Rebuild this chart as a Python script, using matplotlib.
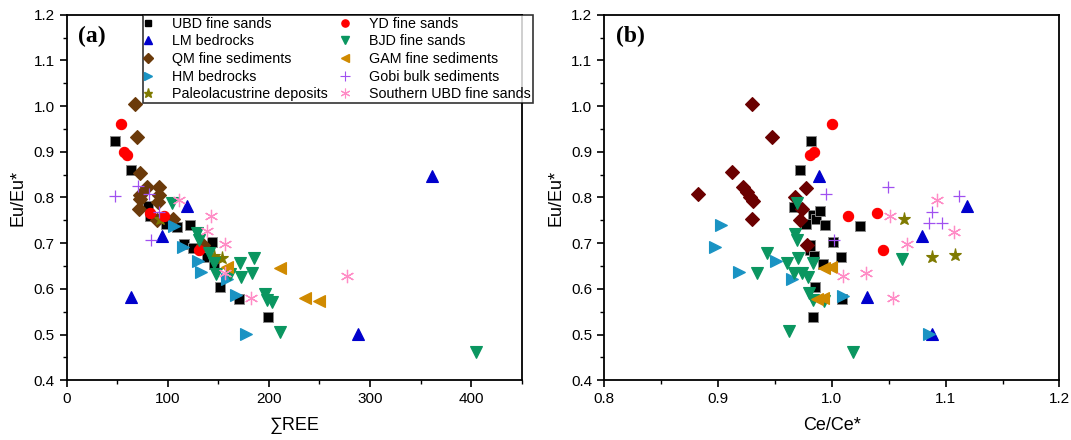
import matplotlib
matplotlib.use("Agg")
import matplotlib.pyplot as plt
from matplotlib.ticker import MultipleLocator

plt.rcParams['font.family'] = ['Liberation Sans', 'DejaVu Sans']

# ---------------- data: panel (a)  x = sum REE, y = Eu/Eu* ----------------
ubd_a_x = [47.7, 64, 80, 82.5, 97.8, 109, 122, 116.5, 125, 143.4, 139, 146, 151.6, 170, 199.3]
ubd_a_y = [0.923, 0.86, 0.782, 0.759, 0.743, 0.736, 0.740, 0.698, 0.689, 0.702, 0.670, 0.654, 0.605, 0.578, 0.539]
lm_a_x = [361, 119, 94.7, 63.4, 288.6]
lm_a_y = [0.847, 0.782, 0.716, 0.583, 0.501]
qm_a_x = [67.5, 69.2, 72.2, 79, 91, 72.2, 91.6, 90.7, 71.9, 89, 105.6, 135, 73]
qm_a_y = [1.005, 0.932, 0.854, 0.824, 0.822, 0.805, 0.805, 0.791, 0.774, 0.751, 0.752, 0.697, 0.797]
hm_a_x = [106.3, 115.2, 129.8, 132.9, 158.4, 167.3, 177.2]
hm_a_y = [0.738, 0.692, 0.662, 0.638, 0.621, 0.587, 0.501]
paleo_a_x = [92, 145.5, 153.3]
paleo_a_y = [0.754, 0.672, 0.668]
yd_a_x = [53.8, 56.9, 59.3, 82.5, 96.4, 131]
yd_a_y = [0.961, 0.900, 0.892, 0.765, 0.760, 0.685]
bjd_a_x = [104.6, 129, 131, 140.4, 146.2, 148.2, 171, 185.4, 172.7, 183.6, 161.8, 196.2, 198, 203, 211.2, 404.4]
bjd_a_y = [0.787, 0.722, 0.708, 0.678, 0.656, 0.632, 0.657, 0.667, 0.627, 0.635, 0.632, 0.588, 0.576, 0.571, 0.506, 0.463]
gam_a_x = [211, 235.8, 249.4, 159]
gam_a_y = [0.645, 0.581, 0.574, 0.649]
gobi_a_x = [47.7, 70.5, 81.8, 83.1, 91]
gobi_a_y = [0.804, 0.825, 0.807, 0.707, 0.768]
subd_a_x = [111.4, 142.8, 138.7, 156.4, 156.7, 182, 277.3]
subd_a_y = [0.794, 0.759, 0.727, 0.699, 0.635, 0.581, 0.629]

# ---------------- data: panel (b)  x = Ce/Ce*, y = Eu/Eu* ----------------
ubd_b_x = [0.982, 0.972, 0.967, 0.983, 0.986, 0.990, 0.994, 0.977, 1.001, 1.025, 1.008, 0.981, 0.981, 0.984, 0.992, 0.985, 1.009, 0.983]
ubd_b_y = [0.923, 0.86, 0.78, 0.761, 0.754, 0.771, 0.740, 0.742, 0.702, 0.737, 0.670, 0.697, 0.685, 0.672, 0.654, 0.605, 0.578, 0.539]
lm_b_x = [0.989, 1.119, 1.079, 1.031, 1.088]
lm_b_y = [0.848, 0.782, 0.716, 0.583, 0.501]
qm_b_x = [0.930, 0.947, 0.912, 0.882, 0.922, 0.925, 0.928, 0.931, 0.930, 0.977, 0.968, 0.974, 0.972, 0.978]
qm_b_y = [1.005, 0.932, 0.855, 0.807, 0.824, 0.812, 0.802, 0.792, 0.752, 0.821, 0.800, 0.775, 0.751, 0.696]
hm_b_x = [0.903, 0.897, 0.918, 0.951, 0.965, 1.010, 1.085]
hm_b_y = [0.739, 0.692, 0.637, 0.662, 0.621, 0.584, 0.501]
paleo_b_x = [1.063, 1.088, 1.108]
paleo_b_y = [0.754, 0.669, 0.674]
yd_b_x = [1.000, 0.984, 0.981, 1.014, 1.040, 1.045]
yd_b_y = [0.961, 0.900, 0.892, 0.759, 0.765, 0.686]
bjd_b_x = [0.969, 0.968, 0.969, 0.943, 0.961, 0.970, 0.934, 0.967, 0.974, 0.979, 0.983, 0.980, 0.983, 0.993, 0.962, 1.019, 1.062]
bjd_b_y = [0.789, 0.720, 0.708, 0.678, 0.657, 0.667, 0.634, 0.634, 0.635, 0.627, 0.656, 0.590, 0.576, 0.574, 0.507, 0.463, 0.666]
gam_b_x = [0.993, 0.999, 0.987, 0.992]
gam_b_y = [0.645, 0.648, 0.577, 0.581]
gobi_b_x = [1.112, 1.049, 0.995, 1.002, 1.088, 1.085, 1.097]
gobi_b_y = [0.804, 0.822, 0.807, 0.707, 0.769, 0.745, 0.745]
subd_b_x = [1.092, 1.051, 1.107, 1.066, 1.010, 1.030, 1.054]
subd_b_y = [0.794, 0.759, 0.725, 0.698, 0.628, 0.635, 0.581]

labels = ["UBD fine sands", "LM bedrocks", "QM fine sediments", "HM bedrocks",
          "Paleolacustrine deposits", "YD fine sands", "BJD fine sands",
          "GAM fine sediments", "Gobi bulk sediments", "Southern UBD fine sands"]

panel_a = [(ubd_a_x, ubd_a_y), (lm_a_x, lm_a_y), (qm_a_x, qm_a_y), (hm_a_x, hm_a_y),
           (paleo_a_x, paleo_a_y), (yd_a_x, yd_a_y), (bjd_a_x, bjd_a_y),
           (gam_a_x, gam_a_y), (gobi_a_x, gobi_a_y), (subd_a_x, subd_a_y)]
panel_b = [(ubd_b_x, ubd_b_y), (lm_b_x, lm_b_y), (qm_b_x, qm_b_y), (hm_b_x, hm_b_y),
           (paleo_b_x, paleo_b_y), (yd_b_x, yd_b_y), (bjd_b_x, bjd_b_y),
           (gam_b_x, gam_b_y), (gobi_b_x, gobi_b_y), (subd_b_x, subd_b_y)]

ASTER = (6, 2, 0)
# marker, size, colour (a), colour (b)
styles = [
    ('s', 6.8, '#000000', '#000000'),
    ('^', 8.6, '#0000CC', '#0000CC'),
    ('D', 7.0, '#6B3A0A', '#6B0000'),
    ('>', 8.6, '#1A93C3', '#1A93C3'),
    ('*', 9.5, '#7F7A00', '#7F7A00'),
    ('o', 7.4, '#FF0000', '#FF0000'),
    ('v', 9.0, '#0A9660', '#0A9660'),
    ('<', 8.6, '#D08A00', '#D08A00'),
    ('+', 8.2, '#A050F0', '#A050F0'),
    (ASTER, 9.6, '#FF8CC6', '#FF8CC6'),
]

fig = plt.figure(figsize=(10.71, 4.40), dpi=100)
ax_a = fig.add_axes([0.0622, 0.1357, 0.4249, 0.8309])
ax_b = fig.add_axes([0.5642, 0.1357, 0.4250, 0.8309])


def draw(ax, data, which):
    for (xs, ys), (m, ms, ca, cb), lab in zip(data, styles, labels):
        c = ca if which == 'a' else cb
        if m == 's':
            mec, mew = '#888888', 0.7
        elif m == ASTER or m == '+':
            mec, mew = c, 0.9
        else:
            mec, mew = c, 0.8
        ax.plot(xs, ys, linestyle='none', marker=m, markersize=ms, color=c,
                markeredgecolor=mec, markeredgewidth=mew, label=lab)


def style_axes(ax):
    for s in ax.spines.values():
        s.set_linewidth(1.3)
    ax.set_ylim(0.4, 1.2)
    ax.yaxis.set_major_locator(MultipleLocator(0.1))
    ax.yaxis.set_minor_locator(MultipleLocator(0.05))
    ax.tick_params(which='major', direction='out', length=5, width=1.2, labelsize=11,
                   top=False, right=False)
    ax.tick_params(which='minor', direction='out', length=3, width=1.0,
                   top=False, right=False)
    ax.set_ylabel("Eu/Eu*", fontsize=13, labelpad=5)


draw(ax_a, panel_a, 'a')
draw(ax_b, panel_b, 'b')

style_axes(ax_a)
ax_a.set_xlim(0, 450)
ax_a.xaxis.set_major_locator(MultipleLocator(100))
ax_a.xaxis.set_minor_locator(MultipleLocator(50))
ax_a.set_xlabel("\u2211REE", fontsize=13, labelpad=8)

style_axes(ax_b)
ax_b.set_xlim(0.8, 1.2)
ax_b.xaxis.set_major_locator(MultipleLocator(0.1))
ax_b.xaxis.set_minor_locator(MultipleLocator(0.05))
ax_b.set_xlabel("Ce/Ce*", fontsize=13, labelpad=8)

ax_a.text(0.026, 0.94, "(a)", transform=ax_a.transAxes, fontsize=17, fontweight='bold',
          family='Liberation Serif', va='center', ha='left')
ax_b.text(0.026, 0.94, "(b)", transform=ax_b.transAxes, fontsize=17, fontweight='bold',
          family='Liberation Serif', va='center', ha='left')

leg_handles = []
for (m, ms, ca, cb), lab in zip(styles, labels):
    if m == ASTER or m == '+':
        h = plt.Line2D([], [], linestyle='none', marker=m, markersize=7,
                       markeredgewidth=0.8, color=ca)
    else:
        h = plt.Line2D([], [], linestyle='none', marker=m, markersize=ms * 0.7, color=ca,
                       markeredgecolor=ca)
    leg_handles.append(h)

# legend anchored at the top of panel (a), overhanging its right spine
leg = ax_a.legend(leg_handles, labels, ncol=2, loc='upper left',
                  bbox_to_anchor=(0.167, 1.0), borderaxespad=0, fontsize=10.3,
                  frameon=True, fancybox=False, handlelength=0.4, handletextpad=1.5,
                  columnspacing=1.0, labelspacing=0.25, borderpad=0.15)
leg.get_frame().set_edgecolor('black')
leg.get_frame().set_linewidth(1.2)
leg.set_zorder(5)

fig.savefig("out.png", dpi=100)
